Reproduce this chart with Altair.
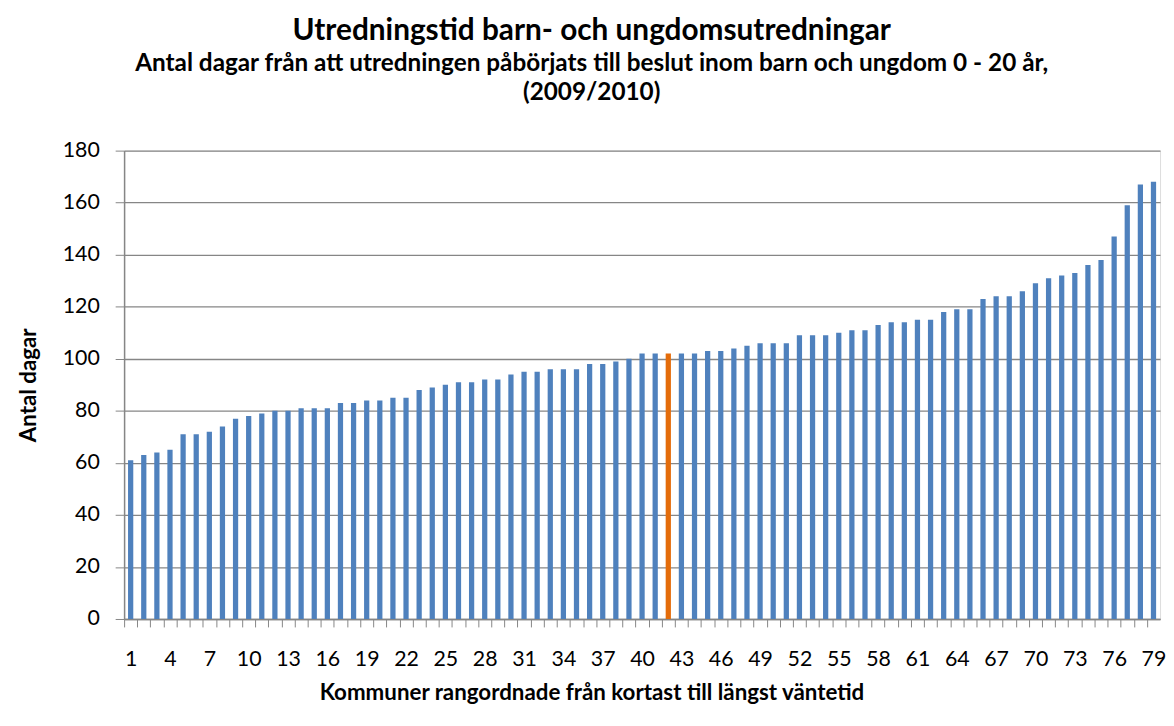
import altair as alt
import pandas as pd

ranks = list(range(1, 80))
values = [61, 63, 64, 65, 71, 71, 72, 74, 77, 78,
          79, 80, 80, 81, 81, 81, 83, 83, 84, 84,
          85, 85, 88, 89, 90, 91, 91, 92, 92, 94,
          95, 95, 96, 96, 96, 98, 98, 99, 100, 102,
          102, 102, 102, 102, 103, 103, 104, 105, 106, 106,
          106, 109, 109, 109, 110, 111, 111, 113, 114, 114,
          115, 115, 118, 119, 119, 123, 124, 124, 126, 129,
          131, 132, 133, 136, 138, 147, 159, 167, 168]
highlight_rank = 42
y_ticks = [0, 20, 40, 60, 80, 100, 120, 140, 160, 180]

df = pd.DataFrame({
    "rank": ranks,
    "value": values,
    "group": ["highlight" if r == highlight_rank else "normal" for r in ranks],
})

W = 1044
H = 472
step = W / len(ranks)
FONT = "Lato"
GRAY = "#868686"

chart = alt.Chart(df).mark_bar().encode(
    x=alt.X(
        "rank:O",
        scale=alt.Scale(paddingInner=0.6, paddingOuter=0.3),
        axis=alt.Axis(
            title="Kommuner rangordnade från kortast till längst väntetid",
            titleFontSize=22.5, titleFontWeight="bold", titleColor="black",
            titleFont=FONT, titlePadding=12, titleX=471, titleAlign="center",
            labelExpr="(datum.value - 1) % 3 == 0 ? datum.label : ''",
            labelAngle=0, labelOverlap=False, labelFontSize=21.5, labelColor="black",
            labelFont=FONT, labelPadding=22,
            tickOffset=-step / 2, labelOffset=step / 2,
            tickColor=GRAY, tickSize=8, domainColor=GRAY, domainWidth=1.5,
            grid=False,
        ),
    ),
    y=alt.Y(
        "value:Q",
        scale=alt.Scale(domain=[0, 180], nice=False),
        axis=alt.Axis(
            title="Antal dagar", values=y_ticks,
            titleFontSize=22.5, titleFontWeight="bold", titleColor="black",
            titleFont=FONT, titlePadding=22,
            labelFontSize=21.5, labelColor="black", labelFont=FONT, labelPadding=16,
            tickColor=GRAY, tickSize=9, domainColor=GRAY, domainWidth=1.5,
            grid=True, gridColor=GRAY, gridWidth=1.3,
        ),
    ),
    color=alt.Color(
        "group:N",
        scale=alt.Scale(domain=["normal", "highlight"], range=["#4F81BD", "#E46C0A"]),
        legend=None,
    ),
).properties(
    width=W,
    height=H,
    padding={"left": 9, "right": 0, "top": 5, "bottom": 5},
    title=alt.TitleParams(
        text="Utredningstid barn- och ungdomsutredningar",
        subtitle=["Antal dagar från att utredningen påbörjats till beslut inom barn och ungdom 0 - 20 år,",
                  "(2009/2010)"],
        anchor="middle", frame="bounds",
        font=FONT, fontSize=30, fontWeight="bold", color="black",
        subtitleFont=FONT, subtitleFontSize=24.5, subtitleFontWeight="bold",
        subtitleColor="black", subtitlePadding=6, subtitleLineHeight=29,
        offset=36,
    ),
).configure_view(stroke=None).configure(background="white")

chart.save("out.html", embed_options={"renderer": "svg", "actions": False})
